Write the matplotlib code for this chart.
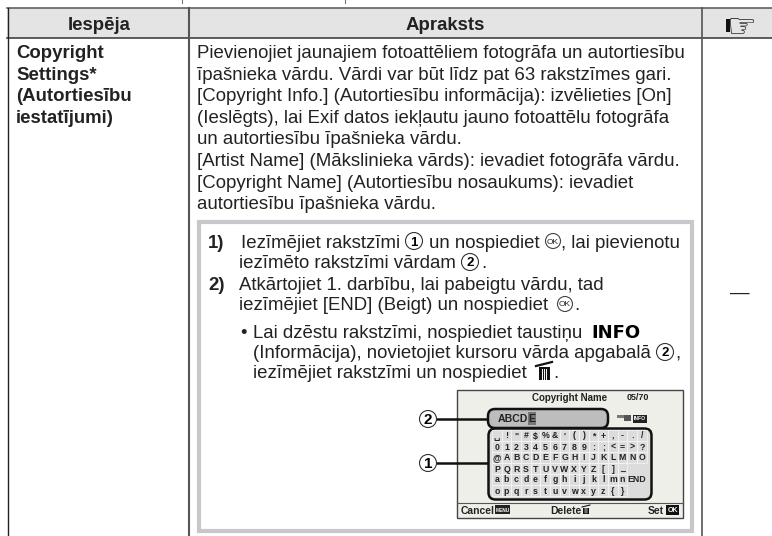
import matplotlib
matplotlib.use("Agg")
import matplotlib.pyplot as plt
from matplotlib.patches import Rectangle, Circle, FancyBboxPatch

# table text
header_labels = ["Iespēja", "Apraksts", "☞"]
option_lines = ["Copyright", "Settings*", "(Autortiesību", "iestatījumi)"]
desc_lines = [
    "Pievienojiet jaunajiem fotoattēliem fotogrāfa un autortiesību",
    "īpašnieka vārdu. Vārdi var būt līdz pat 63 rakstzīmes gari.",
    "[Copyright Info.] (Autortiesību informācija): izvēlieties [On]",
    "(Ieslēgts), lai Exif datos iekļautu jauno fotoattēlu fotogrāfa",
    "un autortiesību īpašnieka vārdu.",
    "[Artist Name] (Mākslinieka vārds): ievadiet fotogrāfa vārdu.",
    "[Copyright Name] (Autortiesību nosaukums): ievadiet",
    "autortiesību īpašnieka vārdu.",
]

# screen text
screen_title = "Copyright Name"
screen_count = "05/70"
screen_name = "ABCD"
screen_cursor = "E"
key_rows = [
    ["␣", "!", '"', "#", "$", "%", "&", "'", "(", ")", "*", "+", ",", "-", ".", "/"],
    list("0123456789:;<=>?"),
    list("@ABCDEFGHIJKLMNO"),
    list("PQRSTUVWXYZ[]_"),
    list("abcdefghijklmn"),
    list("opqrstuvwxyz{}"),
]

FONT = "Liberation Sans"
INK = "#222222"
BODY = 13.45

fig = plt.figure(figsize=(7.72, 5.36), dpi=100)
ax = fig.add_axes([0, 0, 1, 1])
ax.set_xlim(0, 772)
ax.set_ylim(536, 0)
ax.axis("off")


def put(x, y, s, size=BODY, weight="normal", ha="left", color=INK, family=FONT, va="center_baseline"):
    return ax.text(x, y, s, fontsize=size, fontweight=weight, ha=ha, va=va, color=color, family=family)


def circled(x, y, label, r=8.5, size=9.5):
    ax.add_patch(Circle((x, y), r, fc="white", ec="#333333", lw=0.8, zorder=3))
    put(x, y, label, size=size, weight="bold", ha="center", color="black").set_zorder(4)


def ok_icon(x, y):
    ax.add_patch(Circle((x, y), 7.5, fc="white", ec="#444444", lw=0.8))
    put(x, y, "OK", size=6, ha="center")


def trash_icon(x, y, s=1.0):
    # y is the middle of the can
    ax.add_patch(Rectangle((x - 5.5 * s, y - 5 * s), 11 * s, 13 * s, fc="#111111", ec="none"))
    for dx in (-2.4, 0, 2.4):
        ax.plot([x + dx * s] * 2, [y - 3.5 * s, y + 6.5 * s], color="white", lw=0.7 * s)
    ax.plot([x - 8 * s, x + 8 * s], [y - 6 * s, y - 10 * s], color="#111111", lw=1.6 * s)


# --- table frame
ax.add_patch(Rectangle((7, 8), 765, 30, fc="#e4e4e4", ec="none"))
ax.plot([7, 772], [8, 8], color="#555555", lw=1.1)
ax.plot([7, 772], [38, 38], color="#333333", lw=1.1)
ax.plot([7.5, 7.5], [8, 536], color="#222222", lw=1.0)
ax.plot([189, 189], [8, 536], color="#555555", lw=1.5)
ax.plot([702, 702], [8, 536], color="#555555", lw=1.2)

# bits of the cut off line above the table
ax.plot([182, 182], [0, 3], color="#777777", lw=0.8)
ax.plot([345, 345], [0, 3], color="#777777", lw=0.8)

put(99, 23, header_labels[0], weight="bold", ha="center")
put(445, 23, header_labels[1], weight="bold", ha="center")
put(741, 24, header_labels[2], size=24, ha="center", family="DejaVu Sans", color="#111111")
ax.add_patch(Rectangle((726, 19), 4, 13, fc="#111111", ec="none"))

for i, line in enumerate(option_lines):
    put(16, 51.5 + i * 21.6, line, weight="bold")
for i, line in enumerate(desc_lines):
    put(197, 51.5 + i * 21.6, line)
put(739.5, 291, "—", size=14, ha="center")

# --- inner box
ax.add_patch(Rectangle((199, 221.5), 493, 309.5, fc="white", ec="#c8c8cc", lw=3.0))

put(208, 241, "1)", weight="bold")
put(241, 241, "Iezīmējiet rakstzīmi")
circled(414, 241, "1")
put(429, 241, "un nospiediet")
ok_icon(553, 241)
put(561, 241, ", lai pievienotu")
put(239, 262, "iezīmēto rakstzīmi vārdam")
circled(470, 262, "2")
put(481, 262, ".")

put(208, 283, "2)", weight="bold")
put(239, 283, "Atkārtojiet 1. darbību, lai pabeigtu vārdu, tad")
put(239, 304, "iezīmējiet [END] (Beigt) un nospiediet")
ok_icon(565, 304)
put(574, 304, ".")

put(240, 331, "•")
put(253, 331, "Lai dzēstu rakstzīmi, nospiediet taustiņu")
put(591, 331, "INFO", size=13, weight="bold", family="DejaVu Sans", color="black")
put(253, 352, "(Informācija), novietojiet kursoru vārda apgabalā")
circled(665, 352, "2")
put(675, 352, ",")
put(253, 372, "iezīmējiet rakstzīmi un nospiediet")
trash_icon(544, 372)
put(553, 372, ".")

# --- camera screen
ax.add_patch(Rectangle((457, 389.5), 226, 128, fc="#efefea", ec="#444444", lw=1.0))
ax.plot([457, 683], [503, 503], color="#555555", lw=0.8)
put(570, 397, screen_title, size=7, weight="bold", ha="center")
put(638, 397, screen_count, size=6.5, weight="bold", ha="center")

# name field
ax.add_patch(FancyBboxPatch((491, 412), 114, 13, boxstyle="round,pad=3,rounding_size=7",
                            fc="#bdbdbd", ec="#111111", lw=1.8, zorder=2))
ax.add_patch(Rectangle((528, 412), 8, 13, fc="#777777", ec="none", zorder=3))
put(498, 418.5, screen_name, size=7.6, weight="bold").set_zorder(4)
put(532, 418.5, screen_cursor, size=7.6, weight="bold", ha="center").set_zorder(4)

# icons next to the field
ax.add_patch(Rectangle((617, 415), 14, 3, fc="#777777", ec="none"))
ax.add_patch(Rectangle((624, 415), 7, 6, fc="#555555", ec="none"))
ax.add_patch(Rectangle((633, 414.5), 14, 8, fc="#222222", ec="none"))
put(640, 418.5, "INFO", size=3.6, weight="bold", ha="center", color="white")

# keyboard
cell_w, cell_h = 9.67, 11
kx, ky = 492, 429.5
ax.add_patch(FancyBboxPatch((491, 431), 158, 66, boxstyle="round,pad=2.5,rounding_size=7",
                            fc="#dcdcdc", ec="#111111", lw=1.8, zorder=2))
for r, row in enumerate(key_rows):
    for c, key in enumerate(row):
        cx = kx + c * cell_w
        cy = ky + r * cell_h
        ax.add_patch(Rectangle((cx, cy), cell_w, cell_h, fc="none", ec="#f5f5f5", lw=0.5, zorder=3))
        fam = ["DejaVu Sans"] if key == "␣" else FONT
        put(cx + cell_w / 2, cy + cell_h / 2, key, size=6.3, weight="bold", ha="center", family=fam).set_zorder(4)
put(kx + 15 * cell_w, ky + 4.5 * cell_h, "END", size=6.3, weight="bold", ha="center").set_zorder(4)

# callouts
ax.plot([437, 489], [419, 419], color="#111111", lw=1.8, zorder=1)
ax.plot([437, 489], [463, 463], color="#111111", lw=1.8, zorder=1)
circled(428, 419, "2", size=11)
circled(428, 463, "1", size=11)

# footer
put(461, 510, "Cancel", size=7.5, weight="bold")
ax.add_patch(Rectangle((495, 505), 15, 9, fc="#222222", ec="none"))
put(502.5, 509.5, "MENU", size=3.4, weight="bold", ha="center", color="white")
put(550, 510, "Delete", size=7.5, weight="bold")
trash_icon(586, 510, s=0.5)
put(648, 510, "Set", size=7.5, weight="bold")
ax.add_patch(Rectangle((666, 505), 13, 10, fc="#111111", ec="none"))
put(672.5, 510, "OK", size=5, weight="bold", ha="center", color="white")

fig.savefig("out.png", dpi=100)
